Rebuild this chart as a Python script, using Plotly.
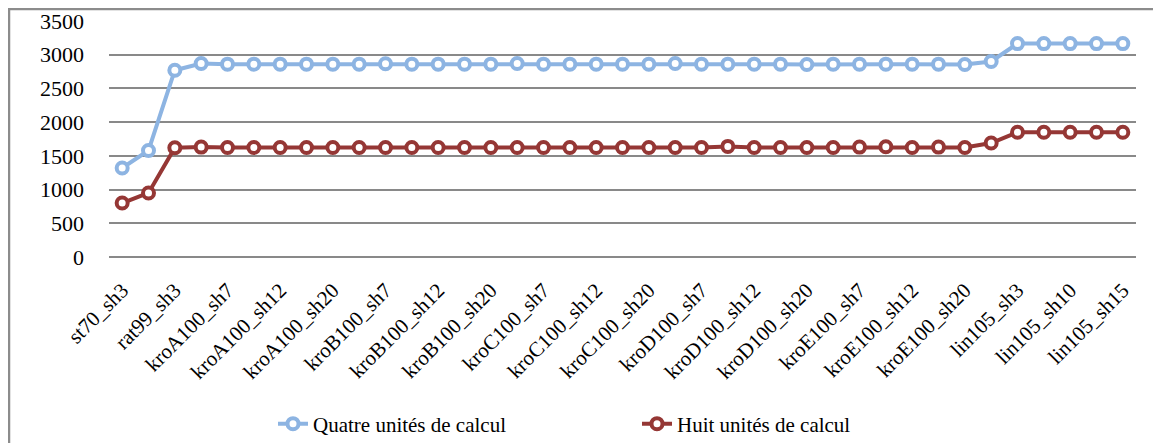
import plotly.graph_objects as go

categories = [
    "st70_sh3", "pr76_sh3", "rat99_sh3",
    "kroA100_sh3", "kroA100_sh7", "kroA100_sh10", "kroA100_sh12", "kroA100_sh15", "kroA100_sh20",
    "kroB100_sh3", "kroB100_sh7", "kroB100_sh10", "kroB100_sh12", "kroB100_sh15", "kroB100_sh20",
    "kroC100_sh3", "kroC100_sh7", "kroC100_sh10", "kroC100_sh12", "kroC100_sh15", "kroC100_sh20",
    "kroD100_sh3", "kroD100_sh7", "kroD100_sh10", "kroD100_sh12", "kroD100_sh15", "kroD100_sh20",
    "kroE100_sh3", "kroE100_sh7", "kroE100_sh10", "kroE100_sh12", "kroE100_sh15", "kroE100_sh20",
    "lin105_sh2", "lin105_sh3", "lin105_sh7", "lin105_sh10", "lin105_sh12", "lin105_sh15",
]

quatre = [
    1320, 1580, 2770,
    2870, 2860, 2860, 2860, 2860, 2860,
    2860, 2865, 2860, 2860, 2860, 2860,
    2870, 2860, 2860, 2860, 2860, 2860,
    2870, 2860, 2860, 2860, 2860, 2855,
    2860, 2860, 2860, 2860, 2860, 2855,
    2900, 3165, 3165, 3165, 3165, 3165,
]

huit = [
    800, 950, 1620,
    1630, 1625, 1625, 1625, 1625, 1625,
    1625, 1625, 1625, 1625, 1625, 1625,
    1625, 1625, 1625, 1625, 1625, 1625,
    1625, 1625, 1640, 1625, 1625, 1625,
    1625, 1630, 1635, 1625, 1630, 1625,
    1690, 1850, 1850, 1850, 1850, 1850,
]

tick_labels = categories[::2]

series_names = ["Quatre unités de calcul", "Huit unités de calcul"]
colors = ["#8DB4E2", "#953735"]

FONT = "Liberation Serif"

fig = go.Figure()
for name, vals, col in zip(series_names, [quatre, huit], colors):
    fig.add_trace(go.Scatter(
        x=categories, y=vals, name=name, mode="lines+markers",
        line=dict(color=col, width=4),
        marker=dict(symbol="circle", size=11, color="white",
                    line=dict(color=col, width=4)),
    ))

fig.update_layout(
    width=1153, height=435,
    margin=dict(l=101, r=25, t=13, b=186, autoexpand=False),
    paper_bgcolor="white", plot_bgcolor="white",
    font=dict(family=FONT, size=21, color="black"),
    showlegend=True,
    legend=dict(orientation="h", x=164 / 1027, xanchor="left",
                y=-167 / 236, yanchor="middle",
                font=dict(family=FONT, size=21), entrywidth=319, entrywidthmode="pixels"),
    shapes=[dict(type="rect", xref="paper", yref="paper",
                 x0=-100 / 1027, x1=1.2, y0=-1.5, y1=1 + 12 / 236,
                 line=dict(color="#8C8C8C", width=2.5), fillcolor="rgba(0,0,0,0)", layer="below")],
)

fig.update_xaxes(
    type="category", range=[-0.5, len(categories) - 0.5], automargin=False,
    tickmode="array", tickvals=tick_labels, ticktext=tick_labels,
    tickangle=-45, showgrid=False, showline=False, ticks="", ticklabelstandoff=16,
    tickfont=dict(family=FONT, size=21),
)
fig.update_yaxes(
    range=[0, 3500], dtick=500, showgrid=True, gridcolor="#898989", gridwidth=1.5,
    zeroline=True, zerolinecolor="#898989", zerolinewidth=1.5, automargin=False,
    showline=False, ticks="", ticklabelstandoff=24,
    tickfont=dict(family=FONT, size=22),
)

fig.write_html("out.html")
